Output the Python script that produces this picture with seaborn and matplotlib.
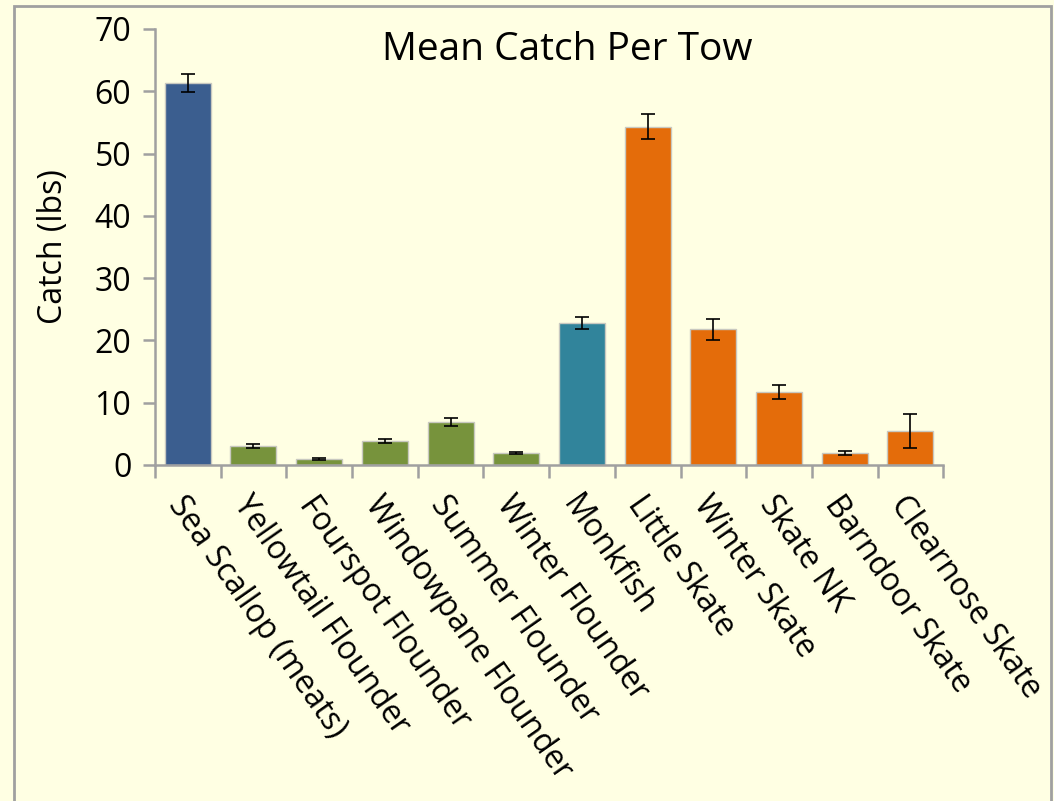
import matplotlib
matplotlib.use("Agg")
import matplotlib.pyplot as plt
import matplotlib.patches as mpatches
import seaborn as sns
import pandas as pd

# Werte
species = ["Sea Scallop (meats)", "Yellowtail Flounder", "Fourspot Flounder",
           "Windowpane Flounder", "Summer Flounder", "Winter Flounder",
           "Monkfish", "Little Skate", "Winter Skate", "Skate NK",
           "Barndoor Skate", "Clearnose Skate"]
mean_catch = [61.3, 3.05, 1.0, 3.85, 6.9, 1.9, 22.8, 54.3, 21.8, 11.7, 1.95, 5.5]
std_err = [1.4, 0.3, 0.15, 0.4, 0.7, 0.2, 1.0, 2.0, 1.7, 1.1, 0.3, 2.7]
group = ["scallop", "flounder", "flounder", "flounder", "flounder", "flounder",
         "monk", "skate", "skate", "skate", "skate", "skate"]

colors = {"scallop": "#3B5E8F", "flounder": "#77933C", "monk": "#31849B", "skate": "#E46C0A"}
bg = "#FFFFE3"

df = pd.DataFrame({"species": species, "catch": mean_catch, "err": std_err, "group": group})

sns.set_style("ticks")
plt.rcParams["font.family"] = ["Open Sans", "DejaVu Sans"]
plt.rcParams["text.color"] = "black"
plt.rcParams["axes.labelcolor"] = "black"
plt.rcParams["xtick.labelcolor"] = "black"
plt.rcParams["ytick.labelcolor"] = "black"

fig = plt.figure(figsize=(10.54, 8.01), dpi=100, facecolor=bg)
ax = fig.add_axes([0.147, 0.4195, 0.748, 0.5443])
ax.set_facecolor(bg)

sns.barplot(data=df, x="species", y="catch", hue="group", palette=colors,
            dodge=False, width=0.7, saturation=1, edgecolor="#C8C8C0", linewidth=1,
            legend=False, ax=ax)
ax.errorbar(range(len(species)), df["catch"], yerr=df["err"], fmt="none",
            ecolor="black", elinewidth=1.2, capsize=5, capthick=1.2)

ax.set_ylim(0, 70)
ax.set_yticks(range(0, 71, 10))
ax.set_xlim(-0.5, len(species) - 0.5)
ax.tick_params(axis="y", left=True, direction="out", labelsize=23, length=9, width=1.8,
               color="#A0A0A0", labelcolor="black", pad=8)
ax.set_xticks(range(len(species)))
ax.set_xticklabels(species, rotation=-55, ha="left", rotation_mode="anchor", fontsize=23)
ax.tick_params(axis="x", which="major", bottom=False, length=0, pad=18, labelcolor="black")
ax.set_xticks([i - 0.5 for i in range(len(species) + 1)], minor=True)
ax.tick_params(axis="x", which="minor", bottom=True, direction="out", length=9, width=1.8,
               color="#A0A0A0")

for s in ["top", "right"]:
    ax.spines[s].set_visible(False)
for s in ["left", "bottom"]:
    ax.spines[s].set_color("#A0A0A0")
    ax.spines[s].set_linewidth(1.8)

ax.set_xlabel("")
ax.set_ylabel("Catch (lbs)", fontsize=23, labelpad=18, color="black")
ax.text(0.523, 0.952, "Mean Catch Per Tow", transform=ax.transAxes,
        ha="center", va="center", fontsize=28, color="black")

# Rahmen um das Bild
fig.patches.append(mpatches.Rectangle((0.0135, -0.01), 0.984, 1.0025, transform=fig.transFigure,
                                      fill=False, edgecolor="#A0A0A0", linewidth=2))

fig.savefig("out.png", dpi=100, facecolor=bg)
